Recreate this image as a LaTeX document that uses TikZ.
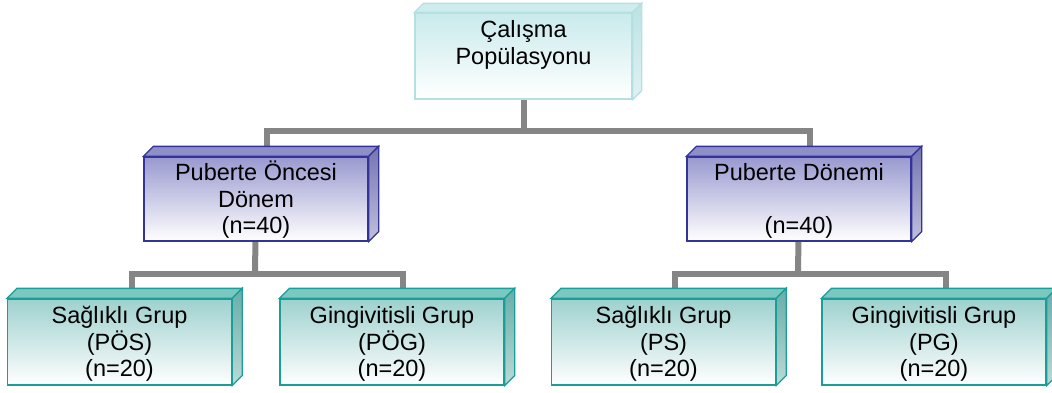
\documentclass[tikz,border=0pt]{standalone}
\usepackage{fontspec}
\setmainfont{Liberation Sans}
\definecolor{connc}{HTML}{858585}
\definecolor{tBorder}{HTML}{1A9E98}
\definecolor{tTop}{HTML}{7BC7C2}
\definecolor{tFront}{HTML}{9ED1CE}
\definecolor{tSide}{HTML}{68ADA8}
\definecolor{pBorder}{HTML}{33339A}
\definecolor{pTop}{HTML}{8E8EC8}
\definecolor{pFront}{HTML}{9999D0}
\definecolor{pSide}{HTML}{7474B2}
\definecolor{cBorder}{HTML}{B5E0E2}
\definecolor{cTop}{HTML}{CFEDEF}
\definecolor{cFront}{HTML}{C9EAEC}
\definecolor{cSide}{HTML}{BCE2E4}
\newcommand\ms{\rule[-4.95pt]{0pt}{26.5pt}}
\newcommand\cubefaces[5]{%
  \filldraw[draw=#3, line width=1.3pt, line join=miter, fill=#4]
    (#1.north west) -- ++(#2,-#2) -- ([shift={(#2,-#2)}]#1.north east) -- (#1.north east) -- cycle;
  \filldraw[draw=#3, line width=1.3pt, line join=miter, top color=#5, bottom color=#5!45!white]
    (#1.north east) -- ++(#2,-#2) -- ([shift={(#2,-#2)}]#1.south east) -- (#1.south east) -- cycle;
}
\begin{document}
\begin{tikzpicture}[x=1pt,y=-1pt,
  conn/.style={draw=connc, line width=6pt},
  face/.style={rectangle, inner sep=0pt, line width=1.3pt, align=center,
    font=\fontsize{23.5}{26.5}\selectfont, shading=axis, bottom color=white},
  cyanbox/.style={face, draw=cBorder, top color=cFront, minimum width=217pt, minimum height=86pt},
  purplebox/.style={face, draw=pBorder, top color=pFront, minimum width=224pt, minimum height=84pt},
  tealbox/.style={face, draw=tBorder, top color=tFront, minimum width=224pt, minimum height=86pt}]
\useasboundingbox (0,0) rectangle (1052,392);
% connectors (behind boxes)
\coordinate (top) at (523.5,56);
\coordinate (ml) at (256,199);
\coordinate (mr) at (799,199);
\coordinate (j0) at (523.5,131);
\coordinate (j1) at (255,274);
\coordinate (j2) at (798,274);
\coordinate (b1c) at (119.5,342);
\coordinate (b2c) at (392,342);
\coordinate (b3c) at (663.5,342);
\coordinate (b4c) at (934,342);
\draw[conn] (top) -- (j0);
\draw[conn] (j0) -| ([xshift=11pt]ml);
\draw[conn] (j0) -| ([xshift=11pt]mr);
\draw[conn] (ml) -- (j1);
\draw[conn] (j1) -| ([xshift=12pt]b1c);
\draw[conn] (j1) -| ([xshift=11pt]b2c);
\draw[conn] (mr) -- (j2);
\draw[conn] (j2) -| ([xshift=11pt]b3c);
\draw[conn] (j2) -| ([xshift=12pt]b4c);
% boxes
\node[cyanbox] (nTop) at (top) {\ms Çalışma\\\ms Popülasyonu\\\ms};
\cubefaces{nTop}{9}{cBorder}{cTop}{cSide}
\node[purplebox] (nML) at (ml) {\ms Puberte Öncesi\\\ms Dönem\\\ms(n=40)};
\cubefaces{nML}{10}{pBorder}{pTop}{pSide}
\node[purplebox] (nMR) at (mr) {\ms Puberte Dönemi\\\ms\\\ms(n=40)};
\cubefaces{nMR}{10}{pBorder}{pTop}{pSide}
\node[tealbox] (nB1) at (b1c) {\ms Sağlıklı Grup\\\ms(PÖS)\\\ms(n=20)};
\cubefaces{nB1}{10}{tBorder}{tTop}{tSide}
\node[tealbox] (nB2) at (b2c) {\ms Gingivitisli Grup\\\ms(PÖG)\\\ms(n=20)};
\cubefaces{nB2}{10}{tBorder}{tTop}{tSide}
\node[tealbox] (nB3) at (b3c) {\ms Sağlıklı Grup\\\ms(PS)\\\ms(n=20)};
\cubefaces{nB3}{10}{tBorder}{tTop}{tSide}
\node[tealbox] (nB4) at (b4c) {\ms Gingivitisli Grup\\\ms(PG)\\\ms(n=20)};
\cubefaces{nB4}{10}{tBorder}{tTop}{tSide}
\end{tikzpicture}
\end{document}
